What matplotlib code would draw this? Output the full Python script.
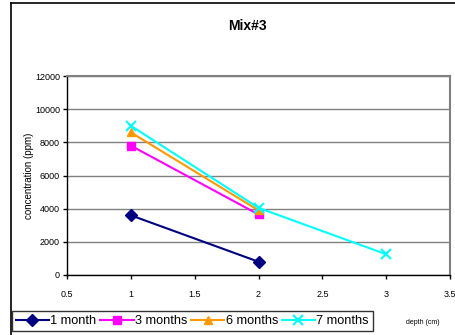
import matplotlib
matplotlib.use("Agg")
import matplotlib.pyplot as plt
from matplotlib.lines import Line2D

# data
depth = [1, 2, 3]
one_month = [3600, 800]
three_months = [7800, 3650]
six_months = [8600, 3900]
seven_months = [9000, 4050, 1250]

series = [
    ("1 month", depth[:2], one_month, "#000080", "D"),
    ("3 months", depth[:2], three_months, "#FF00FF", "s"),
    ("6 months", depth[:2], six_months, "#FF9900", "^"),
    ("7 months", depth, seven_months, "#00FFFF", "x"),
]

plt.rcParams['font.family'] = ['Liberation Sans', 'DejaVu Sans']

fig = plt.figure(figsize=(4.55, 3.35), dpi=100)
ax = fig.add_axes([67 / 455, 1 - 275 / 335, (450 - 67) / 455, (275 - 76) / 335])

for label, xs, ys, color, marker in series:
    ax.plot(xs, ys, color=color, lw=1.5, marker=marker, ms=6 if marker != "x" else 7,
            mew=1.5 if marker == "x" else 1, mec=color, mfc=color, label=label,
            clip_on=False, zorder=3)

ax.set_xlim(0.5, 3.5)
ax.set_ylim(0, 12000)
ax.set_xticks([0.5, 1, 1.5, 2, 2.5, 3, 3.5])
ax.set_xticklabels(["0.5", "1", "1.5", "2", "2.5", "3", "3.5"])
ax.set_yticks(range(0, 12001, 2000))
ax.tick_params(axis="both", labelsize=6.5, length=3, width=1, direction="out", pad=2)
ax.tick_params(axis="x", pad=8)
ax.grid(axis="y", color="#808080", lw=1)
ax.set_axisbelow(True)
for side in ("top", "right"):
    ax.spines[side].set_color("#808080")
    ax.spines[side].set_linewidth(1.5)
for side in ("left", "bottom"):
    ax.spines[side].set_color("#000000")
    ax.spines[side].set_linewidth(1)

ax.set_ylabel("concentration (ppm)", fontsize=7, labelpad=1)
fig.text(423 / 455, 1 - 323 / 335, "depth (cm)", fontsize=5, ha="center", va="center")
fig.text(247 / 455, 1 - 26 / 335, "Mix#3", fontsize=10, fontweight="bold", ha="center", va="center")

# outer chart frame
fig.add_artist(Line2D([11 / 455, 11 / 455], [0, 1 - 3 / 335], color="black", lw=1.2,
                      transform=fig.transFigure))
fig.add_artist(Line2D([11 / 455, 1], [1 - 3 / 335, 1 - 3 / 335], color="black", lw=1.2,
                      transform=fig.transFigure))

leg = fig.legend(loc="lower left", bbox_to_anchor=(12 / 455, 4 / 335), ncol=4,
                 fontsize=9.2, frameon=True, fancybox=False, edgecolor="black",
                 handlelength=2.6, handletextpad=0.1, columnspacing=0.3,
                 borderpad=0.3, borderaxespad=0)
leg.get_frame().set_linewidth(1)

fig.savefig("out.png", dpi=100)
